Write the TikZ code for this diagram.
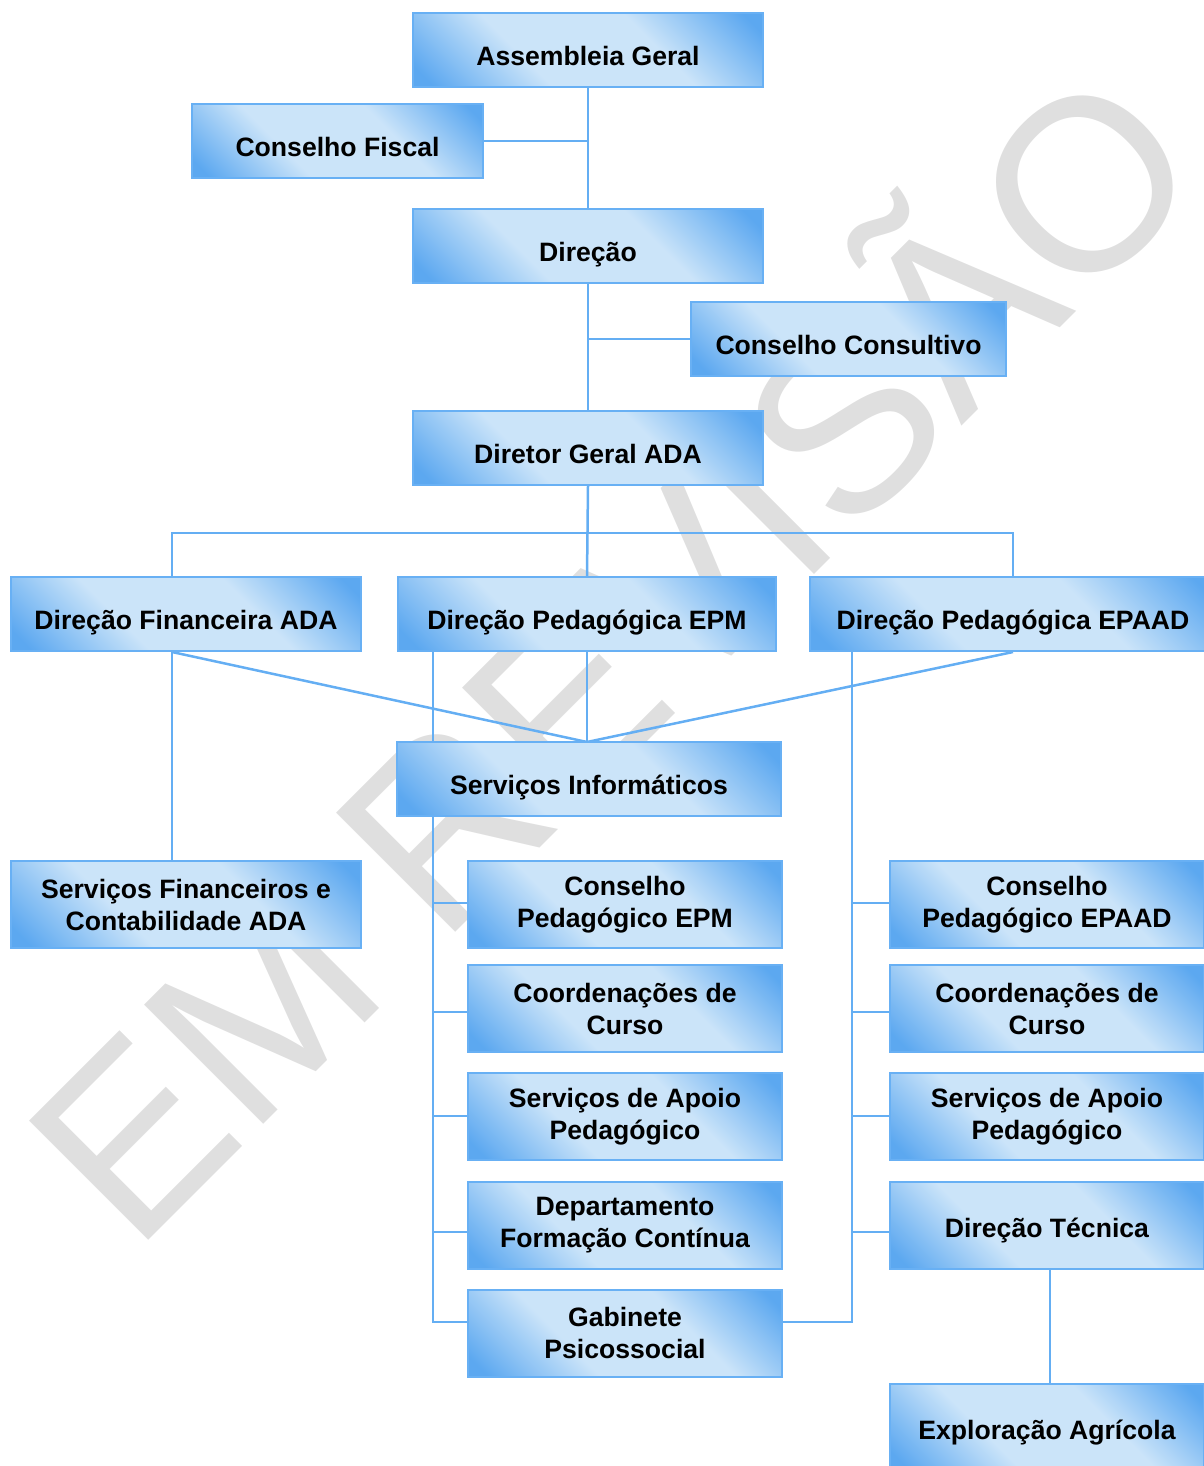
\documentclass[tikz,border=0pt]{standalone}
\usepackage{fontspec}
\setmainfont{Liberation Sans}
\usetikzlibrary{backgrounds}
\definecolor{dk}{RGB}{92,168,240}
\definecolor{lt}{RGB}{203,228,249}
\definecolor{bd}{RGB}{104,176,244}
\definecolor{ln}{RGB}{100,174,243}
\definecolor{wm}{RGB}{223,223,223}
\pgfdeclareverticalshading{boxshade}{100bp}{color(0bp)=(dk); color(18bp)=(dk); color(38bp)=(lt); color(62bp)=(lt); color(82bp)=(dk); color(100bp)=(dk)}
\begin{document}
\begin{tikzpicture}[x=1pt,y=-1pt,
  box/.style={draw=bd, line width=2pt, shading=boxshade, shading angle=-45,
    align=center, inner sep=0pt, font=\fontsize{26.6}{32}\selectfont\bfseries},
  one/.style={box, text height=30.6pt, text depth=0pt, minimum height=74pt},
  col/.style={box, minimum width=314pt, minimum height=87pt},
  conn/.style={draw=ln, line width=2.5pt}]
\useasboundingbox (0,0) rectangle (1203,1466);
% nodes
\node[one, minimum width=350pt] (ag) at (588,50) {Assembleia Geral};
\node[one, minimum width=291pt] (cf) at (337.5,141) {Conselho Fiscal};
\node[one, minimum width=350pt] (dir) at (588,246) {Direção};
\node[one, minimum width=315pt] (cc) at (848.5,339) {Conselho Consultivo};
\node[one, minimum width=350pt] (dg) at (588,448) {Diretor Geral ADA};
\node[one, minimum width=350pt] (dfa) at (186,614) {Direção Financeira ADA};
\node[one, minimum width=378pt] (dpm) at (587,614) {Direção Pedagógica EPM};
\node[one, minimum width=406pt] (dpa) at (1013,614) {Direção Pedagógica EPAAD};
\node[one, minimum width=384pt] (si) at (589,779) {Serviços Informáticos};
\node[box, minimum width=350pt, minimum height=87pt] (sfc) at (186,904.5) {Serviços Financeiros e\\Contabilidade ADA};
\node[col] (l1) at (625,904.5) {Conselho\\Pedagógico EPM};
\node[col] (l2) at (625,1008.5) {Coordenações de\\Curso};
\node[col] (l3) at (625,1116.5) {Serviços de Apoio\\Pedagógico};
\node[col] (l4) at (625,1225.5) {Departamento\\Formação Contínua};
\node[col] (l5) at (625,1333) {Gabinete\\Psicossocial};
\node[col] (r1) at (1047,904.5) {Conselho\\Pedagógico EPAAD};
\node[col] (r2) at (1047,1008.5) {Coordenações de\\Curso};
\node[col] (r3) at (1047,1116.5) {Serviços de Apoio\\Pedagógico};
\node[col, text height=24pt, text depth=0pt] (r4) at (1047,1225.5) {Direção Técnica};
\node[col, text height=24pt, text depth=0pt] (r5) at (1047,1427.5) {Exploração Agrícola};
% helper coordinates
\coordinate (fx) at (172,0);
\coordinate (conv) at (587,742);
\coordinate (lx) at (433,0);
\coordinate (rx) at (852,0);
\coordinate (tx) at (1050,0);
\begin{scope}[on background layer]
  % watermark
  \node[text=wm, rotate=45, font=\fontsize{245}{245}\selectfont, inner sep=0pt] (wmark) at (598,640) {EM REVISÃO};
  % connectors
  \draw[conn] (ag.south) -- (dir.north);
  \draw[conn] (cf.east) -- (cf.east -| ag.south);
  \draw[conn] (dir.south) -- (dg.north);
  \draw[conn] (cc.west) -- (cc.west -| dir.south);
  \draw[conn] (dg.south) -- (dpm.north);
  \draw[conn] (fx |- dfa.north) -- (fx |- 0,533) -- (dpa.north |- 0,533) -- (dpa.north);
  \draw[conn] (dpm.south) -- (conv);
  \draw[conn] (fx |- dfa.south) -- (conv);
  \draw[conn] (dpa.south) -- (conv);
  \draw[conn] (fx |- dfa.south) -- (fx |- sfc.north);
  % left spine
  \draw[conn] (lx |- dpm.south) -- (lx |- 0,1322) -- (l5.west |- 0,1322);
  \draw[conn] (lx |- 0,903) -- (l1.west |- 0,903);
  \draw[conn] (lx |- 0,1012) -- (l2.west |- 0,1012);
  \draw[conn] (lx |- 0,1116) -- (l3.west |- 0,1116);
  \draw[conn] (lx |- 0,1232) -- (l4.west |- 0,1232);
  % right spine
  \draw[conn] (rx |- dpa.south) -- (rx |- 0,1322) -- (l5.east |- 0,1322);
  \draw[conn] (rx |- 0,903) -- (r1.west |- 0,903);
  \draw[conn] (rx |- 0,1012) -- (r2.west |- 0,1012);
  \draw[conn] (rx |- 0,1116) -- (r3.west |- 0,1116);
  \draw[conn] (rx |- 0,1232) -- (r4.west |- 0,1232);
  \draw[conn] (tx |- r4.south) -- (tx |- r5.north);
\end{scope}
\end{tikzpicture}
\end{document}
